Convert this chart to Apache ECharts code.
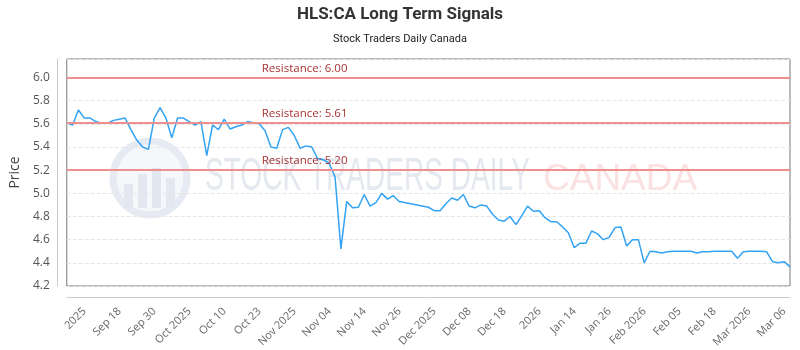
<!DOCTYPE html>
<html>
<head>
<meta charset="utf-8">
<title>HLS:CA Long Term Signals</title>
<script src="https://cdn.jsdelivr.net/npm/echarts@6/dist/echarts.min.js"></script>
<style>
  html, body { margin: 0; padding: 0; background: #fff; }
  #chart { width: 800px; height: 350px; }
</style>
</head>
<body>
<div id="chart"></div>
<script>
// one close per trading day, null = no point (line runs straight through)
const prices = [
  5.61, 5.59, 5.72, 5.65, 5.65, 5.62, 5.605, 5.605, 5.63, 5.64,
  5.65, 5.55, 5.46, 5.40, 5.38, 5.65, 5.74, 5.65, 5.48, 5.65,
  5.65, 5.62, 5.59, 5.62, 5.325, 5.59, 5.55, 5.64, 5.555, 5.575,
  5.59, 5.62, 5.61, 5.60, 5.54, 5.40, 5.39, 5.55, 5.57, 5.50,
  5.39, 5.41, 5.40, 5.30, 5.29, 5.26, 5.14, 4.52, 4.93, 4.875,
  4.88, 4.99, 4.89, 4.92, 5.00, 4.95, 4.98, 4.93, null, null,
  null, null, 4.88, 4.85, 4.85, 4.91, 4.96, 4.94, 4.99, 4.89,
  4.875, 4.90, 4.89, 4.82, 4.77, 4.76, 4.80, 4.73, 4.805, 4.89,
  4.845, 4.85, 4.79, 4.755, 4.755, 4.71, 4.66, 4.53, 4.57, 4.57,
  4.675, 4.65, 4.60, 4.62, 4.705, 4.71, 4.545, 4.60, 4.60, 4.40,
  4.50, 4.495, 4.485, 4.495, 4.50, 4.50, 4.50, 4.50, 4.485, 4.495,
  4.495, 4.50, 4.50, 4.50, 4.50, 4.44, 4.495, 4.50, 4.50, 4.50,
  4.495, 4.41, 4.40, 4.41, 4.365
];
const resistance = [6.00, 5.61, 5.20];
// x labels, shown every tickStep points starting at firstTick
const tickLabels = [
  '2025', 'Sep 18', 'Sep 30', 'Oct 2025', 'Oct 10', 'Oct 23', 'Nov 2025',
  'Nov 04', 'Nov 14', 'Nov 26', 'Dec 2025', 'Dec 08', 'Dec 18', '2026',
  'Jan 14', 'Jan 26', 'Feb 2026', 'Feb 05', 'Feb 18', 'Mar 2026', 'Mar 06'
];
const firstTick = 4;
const tickStep = 6;

const categories = prices.map((v, i) => String(i));
const isTick = (i) => i >= firstTick && (i - firstTick) % tickStep === 0;

let chart = echarts.init(document.getElementById('chart'));
let option = {
  animation: false,
  title: {
    text: 'HLS:CA Long Term Signals',
    subtext: 'Stock Traders Daily Canada',
    left: 'center',
    top: 1,
    itemGap: 11,
    textStyle: {
      fontFamily: 'Roboto',
      fontSize: 17,
      fontWeight: 'bold',
      color: '#333'
    },
    subtextStyle: {
      fontFamily: 'Roboto',
      fontSize: 11,
      color: '#222'
    }
  },
  grid: {
    left: 63,
    right: 10,
    top: 59,
    bottom: 64,
    show: true,
    borderColor: '#777',
    borderWidth: 1
  },
  // faint watermark behind the line
  graphic: [
    { type: 'circle', silent: true, z: 0, shape: { cx: 150, cy: 178, r: 37 },
      style: { fill: 'rgba(238,241,247,0.6)', stroke: '#e6eaf2', lineWidth: 7 } },
    { type: 'rect', silent: true, z: 0, shape: { x: 124, y: 184, width: 9, height: 24 }, style: { fill: '#e3e8f0' } },
    { type: 'rect', silent: true, z: 0, shape: { x: 138, y: 174, width: 9, height: 34 }, style: { fill: '#e3e8f0' } },
    { type: 'rect', silent: true, z: 0, shape: { x: 152, y: 168, width: 9, height: 40 }, style: { fill: '#e3e8f0' } },
    { type: 'rect', silent: true, z: 0, shape: { x: 166, y: 178, width: 9, height: 30 }, style: { fill: '#e3e8f0' } },
    { type: 'text', silent: true, z: 0, x: 205, y: 177, scaleX: 0.61,
      style: { text: 'STOCK TRADERS DAILY', font: '46px "Liberation Sans"',
        fill: '#e4e8ef', verticalAlign: 'middle' } },
    { type: 'text', silent: true, z: 0, x: 543, y: 180,
      style: { text: 'CANADA', font: '37px "Liberation Sans"',
        fill: '#fbe2e2', verticalAlign: 'middle' } }
  ],
  xAxis: {
    type: 'category',
    data: categories,
    boundaryGap: false,
    offset: 11,
    axisLine: { show: true, lineStyle: { color: '#ccc' } },
    axisTick: { show: false },
    splitLine: { show: false },
    axisLabel: {
      interval: (i) => isTick(i),
      formatter: (v, i) => isTick(i) ? tickLabels[(i - firstTick) / tickStep] : '',
      rotate: 45,
      margin: 7,
      padding: [0, 8, 0, 0],
      hideOverlap: false,
      color: '#666',
      fontFamily: 'Open Sans',
      fontSize: 11
    }
  },
  yAxis: {
    type: 'value',
    min: 4.2,
    max: 6.16,
    interval: 0.2,
    offset: 10,
    name: 'Price',
    nameLocation: 'middle',
    nameGap: 31,
    nameTextStyle: { fontFamily: 'Open Sans', fontSize: 14, color: '#444' },
    axisLine: { show: true, lineStyle: { color: '#ccc' } },
    axisTick: { show: false },
    axisLabel: {
      showMaxLabel: false,
      formatter: (v) => v.toFixed(1),
      margin: 7,
      color: '#555',
      fontFamily: 'Open Sans',
      fontSize: 12
    },
    splitLine: { lineStyle: { type: 'dashed', color: '#e6e6e6' } }
  },
  series: [{
    type: 'line',
    data: prices,
    showSymbol: false,
    connectNulls: true,
    z: 3,
    lineStyle: { color: '#33a3f4', width: 1.5 },
    markLine: {
      silent: true,
      symbol: ['none', 'none'],
      lineStyle: { color: '#ee9090', width: 2, type: 'solid' },
      label: {
        position: 'insideStartTop',
        distance: [195, 3],
        color: '#a83333',
        fontFamily: 'Open Sans',
        fontSize: 11.5
      },
      data: resistance.map(v => ({
        yAxis: v,
        label: { formatter: 'Resistance: ' + v.toFixed(2) }
      }))
    }
  }]
};
option && chart.setOption(option);
window.addEventListener('resize', function () {
  chart.resize();
});
</script>
</body>
</html>
